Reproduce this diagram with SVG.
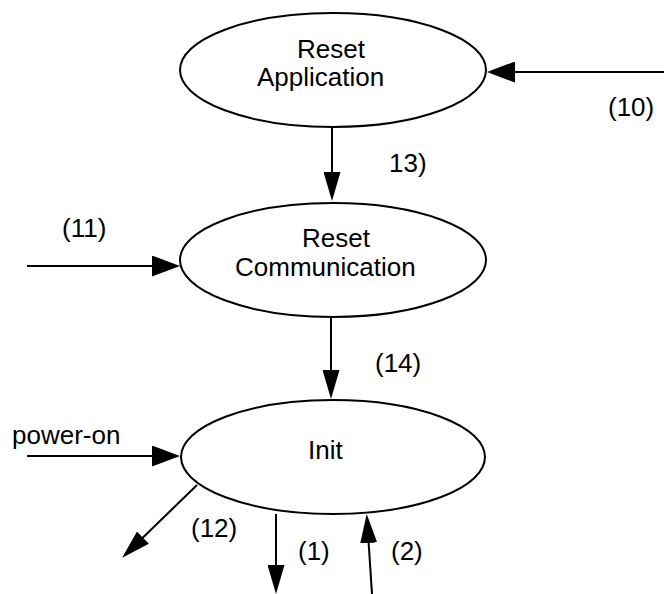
<svg xmlns="http://www.w3.org/2000/svg" width="664" height="594" viewBox="0 0 664 594">
  <style>
    .state { fill: #ffffff; stroke: #000000; stroke-width: 2; }
    .label { font-family: "Liberation Sans", Arial, sans-serif; font-size: 26px; fill: #000000; }
    .edge { stroke: #000000; stroke-width: 2; fill: none; }
  </style>
  <defs>
    <!-- wide head for horizontal transitions -->
    <marker id="arrow-h" viewBox="0 0 28 21" refX="24" refY="10.5" markerWidth="28" markerHeight="21" markerUnits="userSpaceOnUse" orient="auto">
      <path d="M0,0 L28,10.5 L0,21 Z" fill="#000000"/>
    </marker>
    <!-- narrower head for vertical / diagonal transitions -->
    <marker id="arrow-v" viewBox="0 0 29 17" refX="25" refY="8.5" markerWidth="29" markerHeight="17" markerUnits="userSpaceOnUse" orient="auto">
      <path d="M0,0 L29,8.5 L0,17 Z" fill="#000000"/>
    </marker>
  </defs>

  <rect x="0" y="0" width="664" height="594" fill="#ffffff"/>

  <!-- transitions -->
  <g id="connectors">
    <line class="edge" x1="664" y1="72" x2="491" y2="72" marker-end="url(#arrow-h)"/>
    <line class="edge" x1="332" y1="127" x2="332" y2="197" marker-end="url(#arrow-v)"/>
    <line class="edge" x1="27" y1="266" x2="176" y2="266" marker-end="url(#arrow-h)"/>
    <line class="edge" x1="331" y1="317" x2="331" y2="395" marker-end="url(#arrow-v)"/>
    <line class="edge" x1="27" y1="456" x2="176" y2="456" marker-end="url(#arrow-h)"/>
    <line class="edge" x1="197" y1="485" x2="125" y2="555" marker-end="url(#arrow-v)"/>
    <line class="edge" x1="276" y1="514" x2="276" y2="590" marker-end="url(#arrow-v)"/>
    <line class="edge" x1="372" y1="594" x2="367" y2="518" marker-end="url(#arrow-v)"/>
  </g>

  <!-- states -->
  <g id="reset-application">
    <ellipse class="state" cx="333" cy="70" rx="153" ry="57"/>
    <text class="label" x="297" y="58">Reset</text>
    <text class="label" x="257" y="86">Application</text>
  </g>
  <g id="reset-communication">
    <ellipse class="state" cx="333" cy="260" rx="153" ry="57"/>
    <text class="label" x="302" y="247">Reset</text>
    <text class="label" x="235" y="276">Communication</text>
  </g>
  <g id="init">
    <ellipse class="state" cx="333" cy="457" rx="152" ry="57"/>
    <text class="label" x="308" y="459">Init</text>
  </g>

  <!-- transition labels -->
  <g id="edge-labels">
    <text class="label" x="608" y="116">(10)</text>
    <text class="label" x="389" y="172">13)</text>
    <text class="label" x="62" y="237">(11)</text>
    <text class="label" x="375" y="372">(14)</text>
    <text class="label" x="12" y="444">power-on</text>
    <text class="label" x="191" y="537">(12)</text>
    <text class="label" x="298" y="560">(1)</text>
    <text class="label" x="391" y="560">(2)</text>
  </g>
</svg>
